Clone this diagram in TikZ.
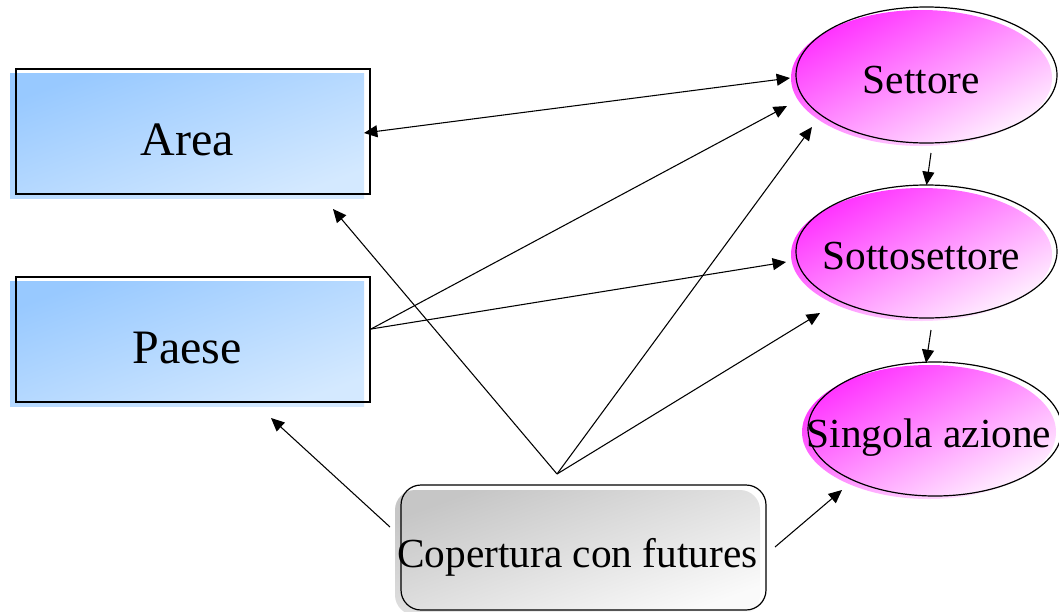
\documentclass[tikz,border=0pt]{standalone}
\usepackage{fontspec}
\setmainfont{Liberation Serif}
\usetikzlibrary{arrows.meta,calc,shapes.geometric}
\definecolor{bluedark}{HTML}{98C9FF}
\definecolor{bluelight}{HTML}{D4E9FF}
\definecolor{magdark}{HTML}{FF30FF}
\definecolor{maglight}{HTML}{FFF2FF}
\definecolor{graydark}{HTML}{C6C6C6}
\definecolor{graylight}{HTML}{FAFAFA}
\tikzset{
  bigfont/.style={font=\fontsize{36}{40}\selectfont, text height=30pt, text depth=0pt},
  smallfont/.style={font=\fontsize{31}{35}\selectfont, text height=23.2pt, text depth=0pt},
  boxfill/.style={rectangle, inner sep=0pt, minimum width=265.5pt, minimum height=93.75pt,
    top color=bluedark, bottom color=bluelight, shading angle=20, bigfont},
  boxline/.style={rectangle, inner sep=0pt, minimum width=265.5pt, minimum height=93.75pt,
    draw=black, line width=0.9pt},
  copfill/.style={rectangle, rounded corners=15pt, inner sep=0pt, minimum width=273.75pt, minimum height=93.75pt,
    top color=graydark, bottom color=graylight, shading angle=20, smallfont},
  copline/.style={rectangle, rounded corners=15pt, inner sep=0pt, minimum width=273.75pt, minimum height=93.75pt,
    draw=black, line width=0.9pt},
  ellfill/.style={ellipse, inner sep=0pt, top color=magdark, bottom color=maglight, shading angle=28, smallfont},
  ellline/.style={ellipse, inner sep=0pt, draw=black, line width=0.9pt},
  arr/.style={line width=0.8pt, >={Triangle[length=10pt,width=9pt]}, ->},
}
\begin{document}
\begin{tikzpicture}[x=0.75pt,y=-0.75pt]
\useasboundingbox[fill=white] (0,0) rectangle (1059,611);
% rectangles
\node[boxfill] (area) at (187,135.5) {Area};
\node[boxline] (areaO) at (193,131.5) {};
\node[boxfill] (paese) at (187,343.5) {Paese};
\node[boxline] (paeseO) at (193,339.5) {};
% bottom box
\node[copfill] (cop) at (577.5,552.5) {\makebox[0pt]{Copertura con futures}};
\node[copline] (copO) at (583.5,547.5) {};
% ellipses
\node[ellfill, minimum width=195.75pt, minimum height=102pt] (set) at (921.5,78) {\makebox[0pt]{Settore}};
\node[ellline, minimum width=195.75pt, minimum height=102pt] (setO) at (926.5,75) {};
\node[ellfill, minimum width=195.75pt, minimum height=99.75pt] (sot) at (921.5,254.5) {\makebox[0pt]{Sottosettore}};
\node[ellline, minimum width=195.75pt, minimum height=99.75pt] (sotO) at (926.5,251.5) {};
\node[ellfill, minimum width=190.5pt, minimum height=100.5pt] (sin) at (929,432) {\makebox[0pt]{Singola azione}};
\node[ellline, minimum width=190.5pt, minimum height=100.5pt] (sinO) at (935,429) {};
% connectors
\draw[arr, <->] ($(area.center)+(177,-2.5)$) -- ($(set.center)+(-131.5,0)$);
\draw[arr] ($(paese.center)+(184,-14.5)$) -- ($(set.center)+(-134.5,28)$);
\draw[arr] ($(paese.center)+(184,-14.5)$) -- ($(sot.center)+(-135.5,7.5)$);
\draw[arr] ($(cop.center)+(-20.5,-78.5)$) -- ($(area.center)+(146,73.5)$);
\draw[arr] ($(cop.center)+(-20.5,-78.5)$) -- ($(set.center)+(-109.5,49)$);
\draw[arr] ($(cop.center)+(-20.5,-78.5)$) -- ($(sot.center)+(-101.5,58.5)$);
\draw[arr] ($(cop.center)+(-187.5,-25.5)$) -- ($(paese.center)+(84,74.5)$);
\draw[arr] ($(cop.center)+(197.5,-5.5)$) -- ($(sin.center)+(-87,58)$);
\draw[arr] ($(set.center)+(9.5,75)$) -- ($(sot.center)+(5,-69.5)$);
\draw[arr] ($(sot.center)+(9.5,75.5)$) -- ($(sin.center)+(-3,-69)$);
\end{tikzpicture}
\end{document}
